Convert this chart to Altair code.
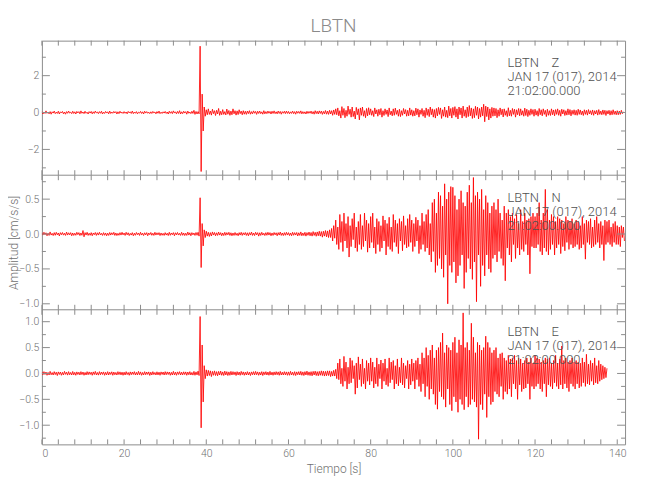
import altair as alt
import pandas as pd

# ---------------- data (one sample every 0.25 s) ----------------
DT = 0.25
STATION = "LBTN"
DATE_LINE = "JAN 17 (017), 2014"
TIME_LINE = "21:02:00.000"
X_LABELS = [0, 20, 40, 60, 80, 100, 120, 140]
X_TICKS = [0, 4, 8, 12, 16, 20, 24, 28, 32, 36, 40, 44, 48, 52, 56, 60, 64, 68, 72, 76, 80,
           84, 88, 92, 96, 100, 104, 108, 112, 116, 120, 124, 128, 132, 136, 140]

z_vals = [
    # 0-10 s
    0.06, -0.08, 0.03, -0.05, 0.09, -0.04, 0.02, -0.07, 0.05, -0.09,
    0.04, -0.03, 0.08, -0.06, 0.02, -0.05, 0.07, -0.08, 0.04, -0.02,
    0.06, -0.07, 0.03, -0.09, 0.05, -0.04, 0.08, -0.03, 0.02, -0.06,
    0.07, -0.05, 0.04, -0.08, 0.06, -0.02, 0.05, -0.07, 0.09, -0.04,
    # 10-20 s
    0.03, -0.06, 0.07, -0.04, 0.02, -0.08, 0.05, -0.03, 0.06, -0.07,
    0.04, -0.05, 0.08, -0.02, 0.03, -0.06, 0.05, -0.04, 0.07, -0.08,
    0.02, -0.05, 0.06, -0.03, 0.04, -0.07, 0.08, -0.05, 0.03, -0.04,
    0.06, -0.02, 0.05, -0.08, 0.04, -0.06, 0.07, -0.03, 0.02, -0.05,
    # 20-30 s
    0.05, -0.04, 0.03, -0.07, 0.06, -0.02, 0.04, -0.05, 0.08, -0.06,
    0.03, -0.04, 0.05, -0.07, 0.02, -0.03, 0.06, -0.05, 0.04, -0.08,
    0.07, -0.03, 0.05, -0.04, 0.02, -0.06, 0.04, -0.05, 0.06, -0.02,
    0.03, -0.07, 0.05, -0.04, 0.08, -0.06, 0.02, -0.05, 0.04, -0.03,
    # 30-40 s
    0.06, -0.05, 0.03, -0.08, 0.07, -0.04, 0.05, -0.06, 0.09, -0.03,
    0.04, -0.07, 0.06, -0.05, 0.1, -0.08, 0.04, -0.06, 0.07, -0.03,
    0.05, -0.09, 0.08, -0.04, 0.03, -0.06, 0.07, -0.05, 0.12, -0.1,
    0.06, -0.08, 0.05, -0.07, 3.6, -3.2, 1.0, -1.0, 0.3, -0.2,
    # 40-50 s
    0.15, -0.12, 0.2, -0.1, 0.08, -0.14, 0.18, -0.06, 0.1, -0.16,
    0.12, -0.08, 0.22, -0.15, 0.07, -0.12, 0.16, -0.1, 0.05, -0.13,
    0.19, -0.09, 0.11, -0.15, 0.08, -0.12, 0.2, -0.07, 0.1, -0.14,
    0.09, -0.11, 0.15, -0.06, 0.08, -0.12, 0.1, -0.09, 0.07, -0.1,
    # 50-60 s
    0.08, -0.06, 0.1, -0.09, 0.05, -0.07, 0.09, -0.04, 0.06, -0.1,
    0.07, -0.05, 0.08, -0.06, 0.04, -0.09, 0.1, -0.07, 0.05, -0.06,
    0.08, -0.04, 0.06, -0.08, 0.07, -0.05, 0.09, -0.06, 0.04, -0.07,
    0.08, -0.05, 0.06, -0.09, 0.05, -0.04, 0.07, -0.06, 0.08, -0.05,
    # 60-70 s
    0.06, -0.07, 0.04, -0.05, 0.08, -0.06, 0.05, -0.09, 0.07, -0.04,
    0.06, -0.05, 0.09, -0.07, 0.05, -0.06, 0.04, -0.08, 0.07, -0.05,
    0.06, -0.04, 0.08, -0.07, 0.05, -0.09, 0.1, -0.06, 0.07, -0.08,
    0.09, -0.05, 0.08, -0.1, 0.06, -0.07, 0.11, -0.09, 0.08, -0.1,
    # 70-80 s
    0.12, -0.08, 0.1, -0.15, 0.14, -0.1, 0.2, -0.12, 0.25, -0.18,
    0.1, -0.3, 0.32, -0.15, 0.22, -0.28, 0.12, -0.2, 0.35, -0.1,
    0.18, -0.25, 0.3, -0.22, 0.08, -0.35, 0.28, -0.12, 0.2, -0.4,
    0.25, -0.15, 0.3, -0.2, 0.1, -0.28, 0.22, -0.18, 0.26, -0.12,
    # 80-90 s
    0.2, -0.15, 0.1, -0.22, 0.25, -0.08, 0.15, -0.2, 0.18, -0.12,
    0.22, -0.25, 0.1, -0.16, 0.2, -0.1, 0.14, -0.22, 0.25, -0.12,
    0.08, -0.18, 0.2, -0.15, 0.24, -0.1, 0.12, -0.2, 0.18, -0.22,
    0.1, -0.15, 0.22, -0.08, 0.16, -0.2, 0.12, -0.18, 0.25, -0.14,
    # 90-100 s
    0.15, -0.2, 0.1, -0.18, 0.24, -0.12, 0.2, -0.25, 0.14, -0.1,
    0.22, -0.2, 0.12, -0.28, 0.25, -0.15, 0.18, -0.22, 0.3, -0.12,
    0.2, -0.25, 0.16, -0.3, 0.22, -0.18, 0.28, -0.1, 0.25, -0.32,
    0.15, -0.2, 0.3, -0.25, 0.12, -0.28, 0.35, -0.18, 0.22, -0.3,
    # 100-110 s
    0.28, -0.15, 0.32, -0.25, 0.2, -0.35, 0.3, -0.12, 0.25, -0.3,
    0.35, -0.2, 0.15, -0.28, 0.3, -0.22, 0.38, -0.18, 0.25, -0.32,
    0.2, -0.28, 0.34, -0.15, 0.3, -0.35, 0.22, -0.25, 0.3, -0.18,
    0.45, -0.5, 0.35, -0.22, 0.3, -0.4, 0.2, -0.3, 0.28, -0.2,
    # 110-120 s
    0.25, -0.18, 0.22, -0.28, 0.15, -0.2, 0.25, -0.12, 0.18, -0.24,
    0.2, -0.15, 0.1, -0.22, 0.26, -0.18, 0.12, -0.2, 0.22, -0.1,
    0.18, -0.25, 0.15, -0.12, 0.22, -0.18, 0.2, -0.14, 0.1, -0.2,
    0.24, -0.16, 0.18, -0.22, 0.12, -0.15, 0.2, -0.1, 0.16, -0.2,
    # 120-130 s
    0.18, -0.14, 0.1, -0.2, 0.22, -0.12, 0.15, -0.18, 0.2, -0.1,
    0.12, -0.22, 0.18, -0.15, 0.1, -0.16, 0.2, -0.12, 0.14, -0.18,
    0.16, -0.1, 0.2, -0.15, 0.12, -0.2, 0.18, -0.08, 0.15, -0.16,
    0.1, -0.14, 0.2, -0.12, 0.16, -0.18, 0.12, -0.1, 0.15, -0.14,
    # 130-140 s
    0.12, -0.15, 0.18, -0.1, 0.14, -0.12, 0.08, -0.16, 0.15, -0.1,
    0.12, -0.14, 0.16, -0.08, 0.1, -0.12, 0.14, -0.15, 0.1, -0.08,
    0.12, -0.14, 0.16, -0.1, 0.08, -0.12, 0.14, -0.1, 0.12, -0.16,
    0.1, -0.08, 0.12, -0.14, 0.1, -0.12, 0.15, -0.1, 0.08, -0.12,
    # 140-141.5 s
    0.1, -0.12, 0.08, -0.1, 0.12, -0.06, 0.04,
]

n_vals = [
    # 0-10 s
    0.02, -0.015, 0.025, -0.01, 0.018, -0.025, 0.012, -0.02, 0.03, -0.015,
    0.01, -0.022, 0.02, -0.018, 0.025, -0.012, 0.015, -0.028, 0.02, -0.01,
    0.022, -0.016, 0.012, -0.02, 0.028, -0.015, 0.018, -0.012, 0.02, -0.025,
    0.015, -0.02, 0.012, -0.018, 0.025, -0.01, 0.02, -0.022, 0.015, -0.018,
    # 10-20 s
    0.05, -0.04, 0.02, -0.015, 0.025, -0.02, 0.012, -0.018, 0.02, -0.025,
    0.015, -0.01, 0.022, -0.02, 0.018, -0.015, 0.025, -0.012, 0.01, -0.02,
    0.02, -0.018, 0.015, -0.025, 0.012, -0.02, 0.022, -0.015, 0.018, -0.01,
    0.025, -0.02, 0.015, -0.022, 0.01, -0.018, 0.02, -0.015, 0.025, -0.012,
    # 20-30 s
    0.015, -0.02, 0.025, -0.012, 0.018, -0.022, 0.01, -0.015, 0.02, -0.025,
    0.012, -0.018, 0.022, -0.01, 0.015, -0.02, 0.025, -0.015, 0.012, -0.022,
    0.018, -0.012, 0.02, -0.025, 0.015, -0.01, 0.022, -0.018, 0.012, -0.02,
    0.025, -0.015, 0.018, -0.012, 0.02, -0.022, 0.015, -0.018, 0.01, -0.02,
    # 30-40 s
    0.02, -0.015, 0.012, -0.022, 0.025, -0.018, 0.015, -0.01, 0.02, -0.025,
    0.018, -0.012, 0.022, -0.015, 0.01, -0.02, 0.025, -0.018, 0.015, -0.022,
    0.012, -0.02, 0.028, -0.015, 0.018, -0.025, 0.02, -0.012, 0.015, -0.02,
    0.022, -0.018, 0.025, -0.03, 0.52, -0.48, 0.15, -0.17, 0.06, -0.05,
    # 40-50 s
    0.04, -0.03, 0.025, -0.035, 0.02, -0.028, 0.03, -0.015, 0.022, -0.025,
    0.018, -0.02, 0.028, -0.015, 0.02, -0.025, 0.015, -0.022, 0.025, -0.018,
    0.02, -0.012, 0.025, -0.02, 0.018, -0.025, 0.015, -0.02, 0.022, -0.018,
    0.012, -0.025, 0.02, -0.015, 0.025, -0.02, 0.018, -0.012, 0.022, -0.02,
    # 50-60 s
    0.018, -0.025, 0.02, -0.015, 0.028, -0.02, 0.015, -0.022, 0.025, -0.012,
    0.02, -0.03, 0.018, -0.02, 0.025, -0.015, 0.012, -0.022, 0.02, -0.018,
    0.025, -0.015, 0.02, -0.025, 0.015, -0.02, 0.022, -0.012, 0.018, -0.025,
    0.02, -0.015, 0.028, -0.02, 0.015, -0.022, 0.02, -0.018, 0.025, -0.015,
    # 60-70 s
    0.02, -0.022, 0.015, -0.025, 0.025, -0.018, 0.02, -0.015, 0.022, -0.028,
    0.018, -0.02, 0.03, -0.025, 0.015, -0.022, 0.025, -0.03, 0.02, -0.018,
    0.028, -0.025, 0.022, -0.03, 0.035, -0.02, 0.025, -0.032, 0.03, -0.025,
    0.04, -0.03, 0.035, -0.045, 0.04, -0.03, 0.05, -0.04, 0.045, -0.05,
    # 70-80 s
    0.06, -0.05, 0.08, -0.1, 0.12, -0.06, 0.2, -0.15, 0.1, -0.22,
    0.28, -0.12, 0.18, -0.25, 0.3, -0.1, 0.15, -0.2, 0.25, -0.33,
    0.12, -0.18, 0.22, -0.08, 0.3, -0.2, 0.1, -0.25, 0.18, -0.15,
    0.28, -0.22, 0.12, -0.18, 0.3, -0.1, 0.2, -0.26, 0.15, -0.2,
    # 80-90 s
    0.25, -0.12, 0.3, -0.2, 0.1, -0.28, 0.22, -0.15, 0.18, -0.25,
    0.12, -0.2, 0.26, -0.1, 0.2, -0.3, 0.15, -0.18, 0.24, -0.22,
    0.1, -0.25, 0.28, -0.12, 0.2, -0.18, 0.15, -0.28, 0.22, -0.1,
    0.18, -0.24, 0.26, -0.15, 0.12, -0.2, 0.22, -0.18, 0.28, -0.12,
    # 90-100 s
    0.2, -0.25, 0.15, -0.18, 0.24, -0.1, 0.2, -0.28, 0.12, -0.22,
    0.3, -0.15, 0.18, -0.25, 0.28, -0.2, 0.35, -0.3, 0.15, -0.4,
    0.45, -0.25, 0.5, -0.55, 0.3, -0.45, 0.6, -0.35, 0.55, -0.5,
    0.4, -0.62, 0.72, -0.3, 0.5, -1.0, 0.6, -0.45, 0.68, -0.55,
    # 100-110 s
    0.67, -0.4, 0.55, -0.7, 0.35, -0.6, 0.5, -0.45, 0.62, -0.3,
    0.45, -0.78, 0.4, -0.55, 0.6, -0.35, 0.7, -0.5, 0.45, -0.65,
    0.81, -0.4, 0.55, -0.97, 0.6, -0.3, 0.5, -0.75, 0.64, -0.45,
    0.35, -0.6, 0.55, -0.3, 0.45, -0.5, 0.3, -0.55, 0.4, -0.35,
    # 110-120 s
    0.45, -0.3, 0.35, -0.4, 0.5, -0.25, 0.3, -0.35, 0.2, -0.45,
    0.4, -0.67, 0.3, -0.2, 0.35, -0.3, 0.25, -0.4, 0.3, -0.15,
    0.22, -0.35, 0.28, -0.2, 0.15, -0.3, 0.35, -0.22, 0.18, -0.25,
    0.3, -0.15, 0.2, -0.3, 0.22, -0.57, 0.25, -0.18, 0.3, -0.2,
    # 120-130 s
    0.25, -0.2, 0.3, -0.15, 0.45, -0.25, 0.2, -0.3, 0.3, -0.2,
    0.64, -0.25, 0.35, -0.3, 0.2, -0.22, 0.28, -0.15, 0.25, -0.3,
    0.18, -0.2, 0.25, -0.15, 0.22, -0.28, 0.2, -0.18, 0.15, -0.24,
    0.25, -0.12, 0.2, -0.22, 0.18, -0.15, 0.22, -0.2, 0.15, -0.18,
    # 130-140 s
    0.2, -0.15, 0.18, -0.22, 0.12, -0.2, 0.25, -0.15, 0.15, -0.36,
    0.2, -0.12, 0.18, -0.15, 0.22, -0.2, 0.1, -0.18, 0.2, -0.15,
    0.25, -0.12, 0.15, -0.2, 0.18, -0.15, 0.12, -0.38, 0.2, -0.15,
    0.18, -0.12, 0.2, -0.15, 0.1, -0.18, 0.15, -0.12, 0.18, -0.15,
    # 140-141.75 s
    0.12, -0.15, 0.1, -0.18, 0.12, -0.05, 0.1, -0.1,
]

e_vals = [
    # 0-10 s
    0.03, -0.025, 0.035, -0.02, 0.028, -0.035, 0.02, -0.03, 0.04, -0.025,
    0.018, -0.03, 0.035, -0.022, 0.025, -0.04, 0.03, -0.02, 0.028, -0.035,
    0.022, -0.03, 0.04, -0.018, 0.025, -0.032, 0.035, -0.025, 0.02, -0.03,
    0.038, -0.028, 0.022, -0.035, 0.03, -0.02, 0.025, -0.03, 0.035, -0.022,
    # 10-20 s
    0.028, -0.035, 0.02, -0.03, 0.035, -0.025, 0.03, -0.02, 0.025, -0.035,
    0.03, -0.022, 0.04, -0.028, 0.02, -0.032, 0.035, -0.025, 0.028, -0.02,
    0.03, -0.035, 0.022, -0.028, 0.035, -0.03, 0.025, -0.02, 0.032, -0.035,
    0.028, -0.025, 0.02, -0.03, 0.035, -0.022, 0.03, -0.028, 0.025, -0.035,
    # 20-30 s
    0.025, -0.03, 0.035, -0.022, 0.02, -0.035, 0.03, -0.025, 0.028, -0.02,
    0.035, -0.03, 0.022, -0.028, 0.04, -0.025, 0.03, -0.035, 0.02, -0.03,
    0.035, -0.025, 0.028, -0.02, 0.03, -0.038, 0.025, -0.03, 0.035, -0.022,
    0.02, -0.03, 0.032, -0.028, 0.025, -0.035, 0.03, -0.02, 0.028, -0.03,
    # 30-40 s
    0.035, -0.025, 0.03, -0.02, 0.028, -0.035, 0.022, -0.03, 0.04, -0.028,
    0.025, -0.035, 0.03, -0.02, 0.035, -0.03, 0.025, -0.028, 0.032, -0.022,
    0.03, -0.035, 0.028, -0.025, 0.035, -0.03, 0.02, -0.032, 0.04, -0.035,
    0.03, -0.028, 0.045, -0.04, 1.1, -1.05, 0.55, -0.55, 0.15, -0.1,
    # 40-50 s
    0.07, -0.05, 0.06, -0.04, 0.05, -0.06, 0.04, -0.035, 0.05, -0.04,
    0.035, -0.045, 0.04, -0.03, 0.045, -0.035, 0.03, -0.04, 0.045, -0.03,
    0.035, -0.04, 0.03, -0.035, 0.04, -0.03, 0.035, -0.025, 0.03, -0.04,
    0.035, -0.03, 0.028, -0.035, 0.04, -0.025, 0.03, -0.035, 0.025, -0.03,
    # 50-60 s
    0.035, -0.03, 0.025, -0.04, 0.03, -0.025, 0.035, -0.03, 0.04, -0.025,
    0.03, -0.035, 0.025, -0.03, 0.035, -0.04, 0.03, -0.025, 0.035, -0.03,
    0.028, -0.035, 0.04, -0.03, 0.025, -0.035, 0.03, -0.028, 0.035, -0.025,
    0.03, -0.035, 0.04, -0.03, 0.025, -0.03, 0.035, -0.028, 0.03, -0.035,
    # 60-70 s
    0.03, -0.035, 0.04, -0.03, 0.025, -0.035, 0.035, -0.04, 0.03, -0.025,
    0.035, -0.03, 0.04, -0.035, 0.03, -0.04, 0.035, -0.03, 0.045, -0.035,
    0.03, -0.04, 0.035, -0.045, 0.04, -0.03, 0.045, -0.04, 0.035, -0.045,
    0.04, -0.035, 0.05, -0.04, 0.045, -0.05, 0.04, -0.045, 0.05, -0.04,
    # 70-80 s
    0.05, -0.06, 0.04, -0.05, 0.06, -0.05, 0.08, -0.1, 0.2, -0.12,
    0.28, -0.2, 0.1, -0.25, 0.33, -0.15, 0.22, -0.3, 0.12, -0.2,
    0.3, -0.18, 0.25, -0.1, 0.15, -0.4, 0.2, -0.28, 0.32, -0.12,
    0.18, -0.25, 0.28, -0.2, 0.1, -0.3, 0.25, -0.15, 0.2, -0.22,
    # 80-90 s
    0.3, -0.15, 0.22, -0.28, 0.12, -0.2, 0.3, -0.25, 0.18, -0.1,
    0.26, -0.3, 0.2, -0.15, 0.28, -0.22, 0.1, -0.25, 0.3, -0.18,
    0.22, -0.12, 0.25, -0.3, 0.15, -0.2, 0.28, -0.24, 0.12, -0.18,
    0.3, -0.22, 0.2, -0.28, 0.15, -0.1, 0.25, -0.3, 0.18, -0.22,
    # 90-100 s
    0.28, -0.15, 0.2, -0.3, 0.25, -0.12, 0.3, -0.25, 0.18, -0.35,
    0.4, -0.2, 0.3, -0.45, 0.5, -0.25, 0.35, -0.5, 0.45, -0.3,
    0.55, -0.4, 0.3, -0.6, 0.45, -0.69, 0.5, -0.35, 0.6, -0.45,
    0.78, -0.5, 0.4, -0.65, 0.55, -0.3, 0.5, -0.6, 0.45, -0.72,
    # 100-110 s
    0.6, -0.45, 0.7, -0.55, 0.4, -0.75, 0.65, -0.5, 0.55, -0.6,
    1.17, -0.7, 0.5, -0.45, 0.6, -0.65, 0.45, -0.6, 0.97, -0.5,
    0.7, -0.55, 0.4, -0.65, 0.6, -1.27, 0.55, -0.6, 0.45, -0.7,
    0.5, -0.4, 0.72, -0.85, 0.6, -0.45, 0.5, -0.6, 0.4, -0.55,
    # 110-120 s
    0.45, -0.35, 0.5, -0.4, 0.3, -0.45, 0.38, -0.25, 0.4, -0.5,
    0.3, -0.35, 0.25, -0.4, 0.35, -0.3, 0.28, -0.45, 0.3, -0.2,
    0.35, -0.3, 0.25, -0.5, 0.3, -0.22, 0.28, -0.35, 0.2, -0.3,
    0.25, -0.28, 0.3, -0.2, 0.22, -0.5, 0.3, -0.25, 0.2, -0.3,
    # 120-130 s
    0.35, -0.25, 0.3, -0.2, 0.28, -0.3, 0.22, -0.35, 0.25, -0.2,
    0.3, -0.45, 0.28, -0.22, 0.3, -0.25, 0.2, -0.3, 0.25, -0.18,
    0.35, -0.25, 0.2, -0.3, 0.28, -0.22, 0.53, -0.3, 0.25, -0.2,
    0.3, -0.28, 0.22, -0.35, 0.25, -0.2, 0.3, -0.25, 0.22, -0.3,
    # 130-137.5 s
    0.25, -0.2, 0.22, -0.28, 0.2, -0.25, 0.3, -0.18, 0.22, -0.25,
    0.37, -0.2, 0.18, -0.22, 0.25, -0.15, 0.2, -0.22, 0.3, -0.18,
    0.15, -0.2, 0.25, -0.15, 0.18, -0.12, 0.15, -0.1, 0.12, -0.08,
    0.1,
]

# ---------------- styling / layout ----------------
W, PH = 585, 135          # plot width, height of each of the three panels
XMAX = 141.9
FONT = "Roboto, Liberation Sans, sans-serif"
FRAME = "#8c8c8c"
TXT = "#707070"
X_TICK_LEN = 5
Y_MAJOR_LEN = 8
Y_MINOR_LEN = 4
NBSP = "\u00a0"

xs = alt.Scale(domain=[0, XMAX], nice=False, zero=False)
x_axis = alt.Axis(orient="bottom", values=X_LABELS, format="d", ticks=False, domain=False,
                  grid=False, labelPadding=4, title="Tiempo [s]", titlePadding=5)

panels = [
    dict(vals=z_vals, comp="Z", dom=[-3.4, 3.9], major=[-2, 0, 2], minor=[-3, -1, 1, 3], fmt="d"),
    dict(vals=n_vals, comp="N", dom=[-1.086, 0.843], major=[-1.0, -0.5, 0.0, 0.5],
         minor=[-0.75, -0.25, 0.25, 0.75], fmt=".1f"),
    dict(vals=e_vals, comp="E", dom=[-1.37, 1.23], major=[-1.0, -0.5, 0.0, 0.5, 1.0],
         minor=[-1.25, -0.75, -0.25, 0.25, 0.75], fmt=".1f"),
]

layers = []
for k, p in enumerate(panels):
    top, bot = k * PH, (k + 1) * PH
    ys = alt.Scale(domain=p["dom"], range=[bot, top], nice=False, zero=False)
    if k == 1:
        y_axis = alt.Axis(orient="left", values=p["major"], format=p["fmt"], ticks=False,
                          domain=False, grid=False, labelPadding=3, minExtent=21, maxExtent=21,
                          title="Amplitud [cm/s/s]", titlePadding=0)
    else:
        y_axis = alt.Axis(orient="left", values=p["major"], format=p["fmt"], ticks=False,
                          domain=False, grid=False, labelPadding=3, minExtent=21, maxExtent=21,
                          title=None)
    df = pd.DataFrame({"t": [i * DT for i in range(len(p["vals"]))], "a": p["vals"]})
    layers.append(alt.Chart(df).mark_line(color="#ff0000", strokeWidth=0.85, clip=True).encode(
        x=alt.X("t:Q", scale=xs, axis=x_axis), y=alt.Y("a:Q", scale=ys, axis=y_axis)))

    # inward x ticks on the top and bottom edge of the panel
    xt = alt.Chart(pd.DataFrame({"t": X_TICKS})).mark_rule(color=FRAME, strokeWidth=1)
    layers.append(xt.encode(x=alt.X("t:Q", scale=xs, axis=x_axis),
                            y=alt.value(top), y2=alt.value(top + X_TICK_LEN)))
    layers.append(xt.encode(x=alt.X("t:Q", scale=xs, axis=x_axis),
                            y=alt.value(bot - X_TICK_LEN), y2=alt.value(bot)))
    # inward y ticks on the left and right edge
    for vals, ln in ((p["major"], Y_MAJOR_LEN), (p["minor"], Y_MINOR_LEN)):
        yt = alt.Chart(pd.DataFrame({"a": vals})).mark_rule(color=FRAME, strokeWidth=1)
        layers.append(yt.encode(y=alt.Y("a:Q", scale=ys, axis=None),
                                x=alt.value(0), x2=alt.value(ln)))
        layers.append(yt.encode(y=alt.Y("a:Q", scale=ys, axis=None),
                                x=alt.value(W - ln), x2=alt.value(W)))
    # separator line below the panel
    if k < 2:
        layers.append(alt.Chart(pd.DataFrame({"s": [0]})).mark_rule(
            color=FRAME, strokeWidth=1).encode(
            x=alt.value(0), x2=alt.value(W), y=alt.value(bot)))
    # station / date / time annotation
    for j, line in enumerate([STATION + NBSP * 4 + p["comp"], DATE_LINE, TIME_LINE]):
        layers.append(alt.Chart(pd.DataFrame({"label": [line]})).mark_text(
            align="left", baseline="alphabetic", fontSize=13, fontWeight=300,
            color="#505050", font=FONT).encode(
            text="label:N", x=alt.value(467), y=alt.value(top + 26.5 + 14 * j)))

# chart title, centred over the plot
layers.append(alt.Chart(pd.DataFrame({"label": [STATION]})).mark_text(
    align="center", baseline="alphabetic", fontSize=19, fontWeight=300,
    color="#8a8a8a", font=FONT).encode(
    text="label:N", x=alt.value(W / 2), y=alt.value(-9)))

chart = alt.layer(*layers).resolve_scale(y="independent").properties(
    width=W, height=3 * PH,
    padding={"left": 0, "top": 8, "right": 16, "bottom": 5},
).configure_view(stroke=FRAME, strokeWidth=1).configure_axis(
    labelFont=FONT, titleFont=FONT, labelColor=TXT, titleColor=TXT,
    labelFontSize=10.5, titleFontSize=12, titleFontWeight=300, labelFontWeight=300)

chart.save("out.html", embed_options={"renderer": "svg", "actions": False})
